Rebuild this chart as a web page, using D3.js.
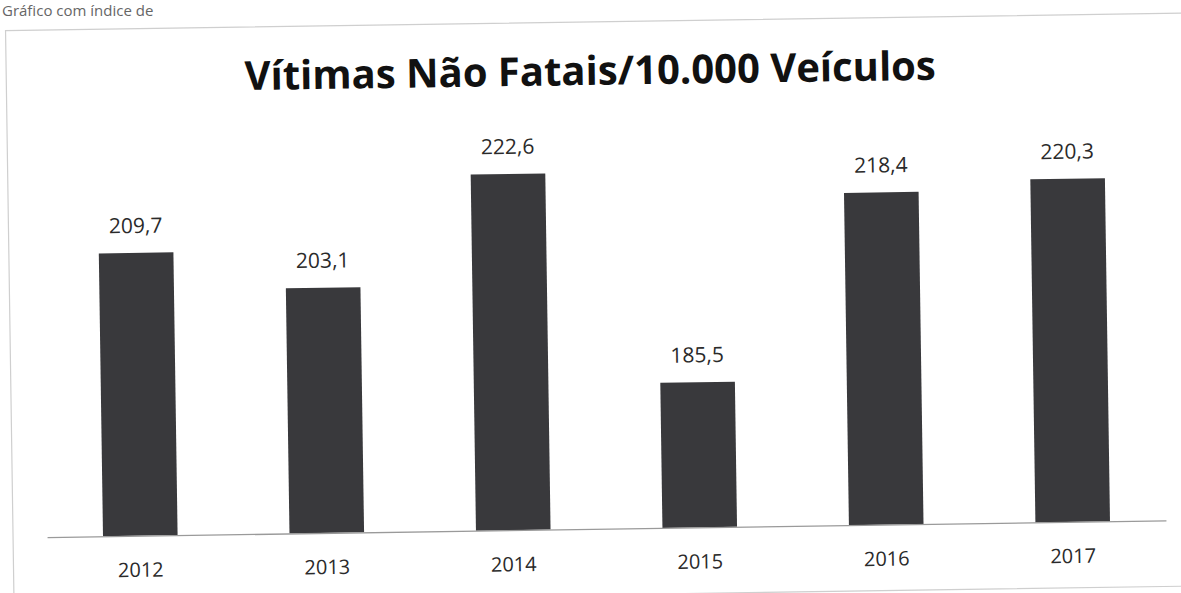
<!DOCTYPE html>
<html lang="pt">
<head>
<meta charset="utf-8">
<title>Vítimas Não Fatais/10.000 Veículos</title>
<script src="https://d3js.org/d3.v7.min.js"></script>
<style>
  body { margin: 0; background: #fff; }
  text { font-family: "Open Sans", "Noto Sans", sans-serif; }
</style>
</head>
<body>
<div id="chart"></div>
<script>
// data
const years = ["2012", "2013", "2014", "2015", "2016", "2017"];
const values = [209.7, 203.1, 222.6, 185.5, 218.4, 220.3];
const yDomain = [160, 230];

const W = 1181, H = 593;
const baseY = 529;       // bar baseline
const tilt = -0.85;      // the scan is slightly rotated

const ptBR = d3.formatLocale({decimal: ",", thousands: ".", grouping: [3], currency: ["R$", ""]});
const fmt = ptBR.format(".1f");

const svg = d3.select("#chart").append("svg")
    .attr("width", W)
    .attr("height", H);

svg.append("rect").attr("width", W).attr("height", H).attr("fill", "#fff");

// caption line at the very top of the page (mostly cut off in the scan)
svg.append("text")
    .attr("x", 2).attr("y", 16)
    .attr("font-size", 15)
    .attr("fill", "#666")
    .text("Gráfico com índice de");

const g = svg.append("g")
    .attr("transform", `rotate(${tilt}, 590, ${baseY})`);

// chart frame
g.append("rect")
    .attr("x", 13).attr("y", 22)
    .attr("width", 1185).attr("height", 573)
    .attr("fill", "none")
    .attr("stroke", "#cfcfcf")
    .attr("stroke-width", 1.2);

const x = d3.scaleBand()
    .domain(years)
    .range([47, 1166])
    .paddingInner(0.6)
    .paddingOuter(0.3);

const y = d3.scaleLinear()
    .domain(yDomain)
    .range([baseY, baseY - 70 * 5.69]);

// title
g.append("text")
    .attr("x", 597).attr("y", 85)
    .attr("text-anchor", "middle")
    .attr("font-size", 40)
    .attr("font-weight", 700)
    .attr("fill", "#111")
    .text("Vítimas Não Fatais/10.000 Veículos");

// bars
g.selectAll("rect.bar")
  .data(years)
  .join("rect")
    .attr("class", "bar")
    .attr("x", d => x(d))
    .attr("y", (d, i) => y(values[i]))
    .attr("width", x.bandwidth())
    .attr("height", (d, i) => baseY - y(values[i]))
    .attr("fill", "#39393c");

// data labels
g.selectAll("text.lbl")
  .data(years)
  .join("text")
    .attr("class", "lbl")
    .attr("x", d => x(d) + x.bandwidth() / 2)
    .attr("y", (d, i) => y(values[i]) - 20)
    .attr("text-anchor", "middle")
    .attr("font-size", 21)
    .attr("fill", "#2a2a2a")
    .text((d, i) => fmt(values[i]));

// x axis
const xAxis = g.append("g")
    .attr("transform", `translate(0,${baseY})`)
    .call(d3.axisBottom(x).tickSize(0).tickPadding(27));
xAxis.select(".domain").attr("stroke", "#9a9a9a").attr("stroke-width", 1.3);
xAxis.selectAll("text")
    .attr("font-size", 20)
    .attr("font-family", "'Open Sans', 'Noto Sans', sans-serif")
    .attr("fill", "#2a2a2a");
</script>
</body>
</html>
